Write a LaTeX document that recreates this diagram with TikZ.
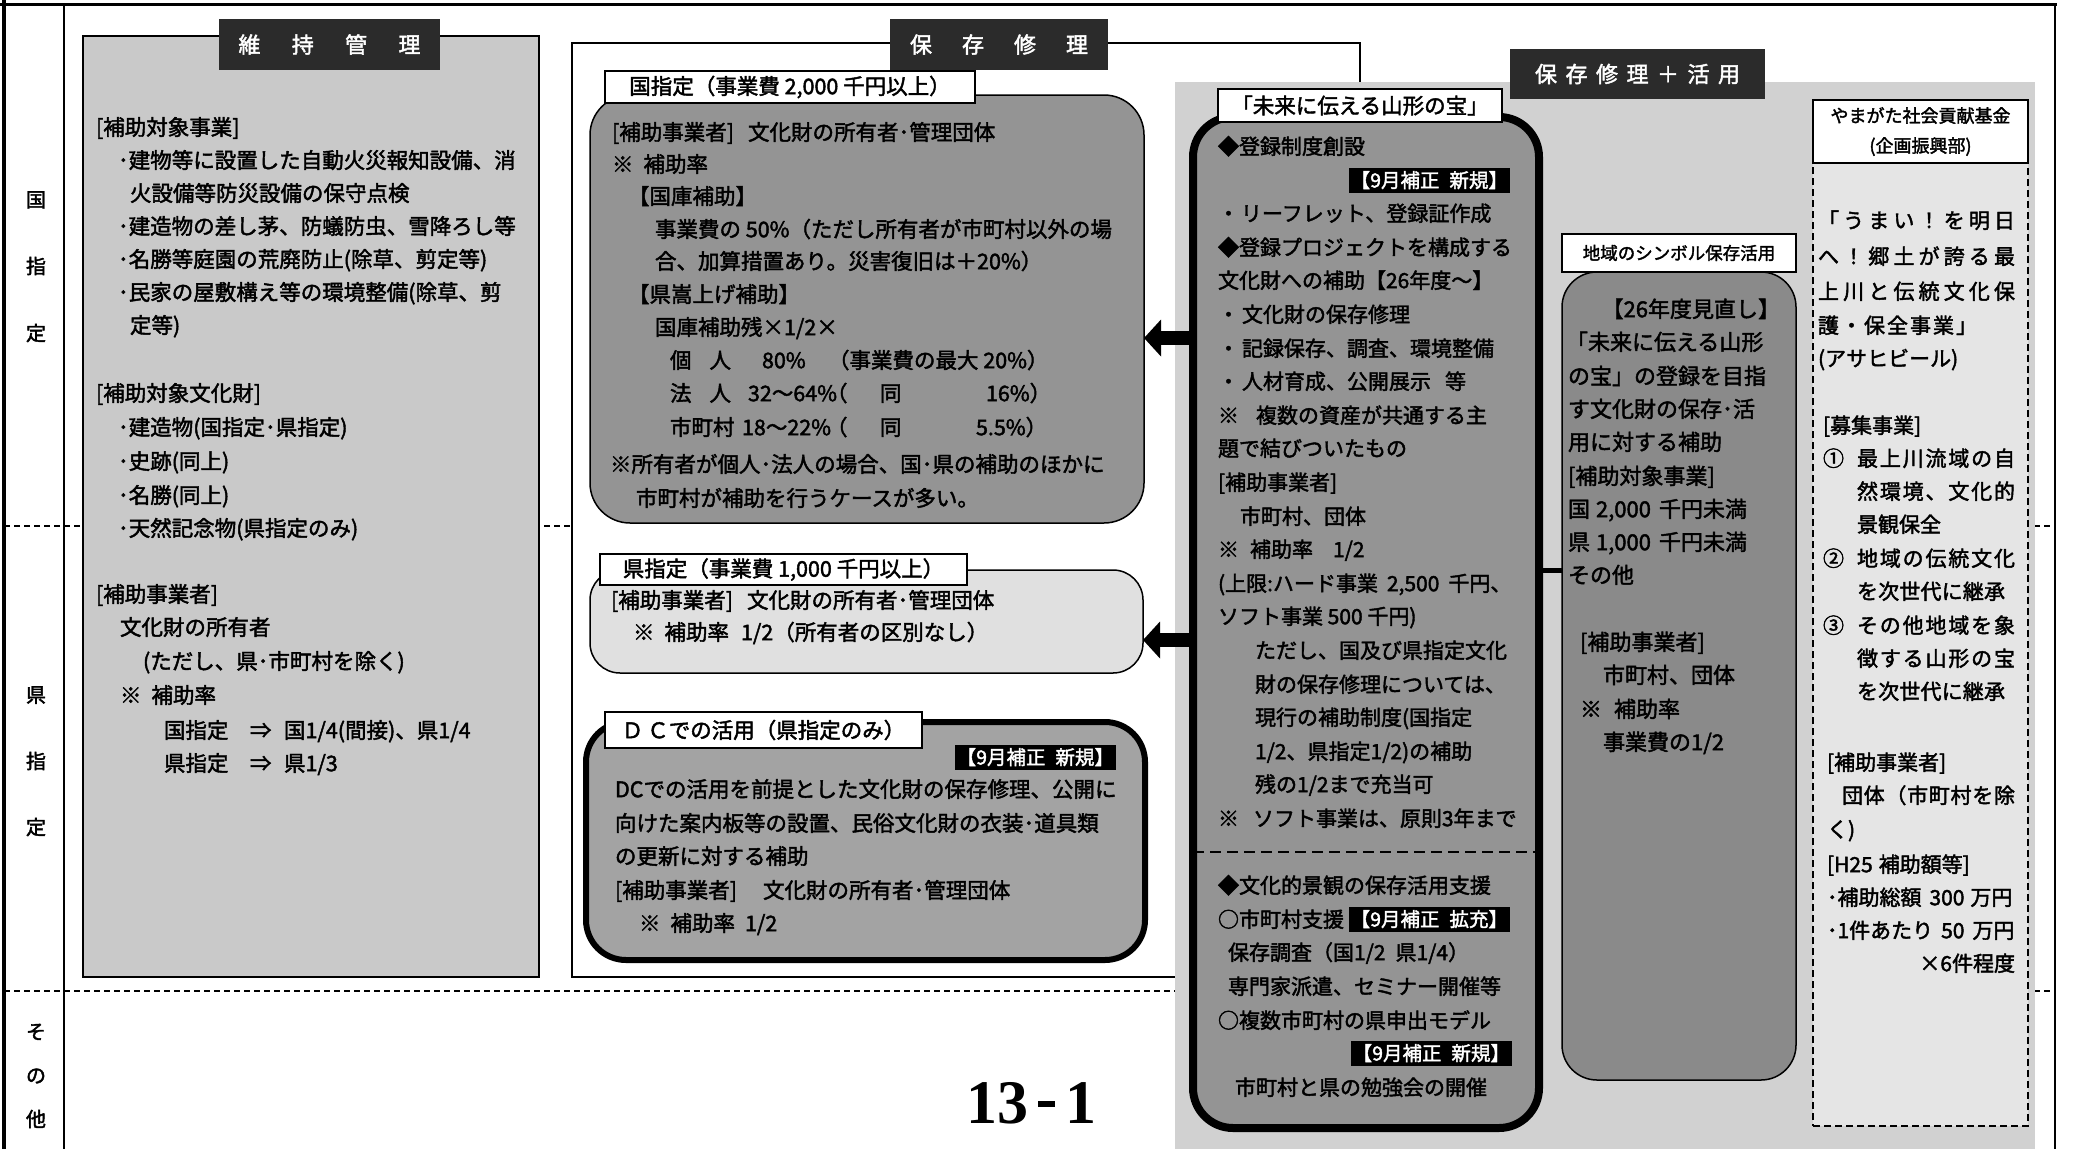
\documentclass[tikz,border=0pt]{standalone}
\usepackage{fontspec}
\setmainfont{Noto Sans CJK JP}[FakeBold=2]
\newfontfamily\numfont{Liberation Serif}
\usetikzlibrary{arrows.meta}
\definecolor{panelA}{gray}{0.79}
\definecolor{regionB}{gray}{0.82}
\definecolor{kuniC}{gray}{0.58}
\definecolor{kenD}{gray}{0.88}
\definecolor{dcE}{gray}{0.64}
\definecolor{centerF}{gray}{0.58}
\definecolor{chiikiG}{gray}{0.54}
\definecolor{yamaH}{gray}{0.90}
\definecolor{hdrc}{gray}{0.17}
\def\spreadit#1{\ifx#1\relax\else#1\hfill\expandafter\spreadit\fi}
\newcommand\spreadto[2]{\hbox to #1{\spreadit#2\relax\unskip}}
\tikzset{
 bx/.style={rectangle, inner sep=0pt, outer sep=0pt, anchor=north west},
 hdr/.style={bx, fill=hdrc, text=white, font=\fontsize{22}{26}\selectfont},
 lbl/.style={bx, draw, fill=white, line width=1.6pt, font=\fontsize{21.5}{26}\selectfont},
 t/.style={anchor=west, inner sep=0pt, outer sep=0pt, text height=19pt, text depth=2.6pt, font=\fontsize{21.5}{26}\selectfont},
 tc/.style={t, font=\fontsize{21}{26}\selectfont},
 tg/.style={t, font=\fontsize{22}{26}\selectfont},
 tr/.style={t, font=\fontsize{21}{26}\selectfont},
 side/.style={anchor=center, inner sep=0pt, font=\fontsize{20}{24}\selectfont},
 badge/.style={anchor=east, fill=black, text=white, inner xsep=2pt, inner ysep=0pt, outer sep=0pt, text height=20pt, text depth=5pt, font=\fontsize{19.5}{24}\selectfont},
 fatarrow/.style={line width=14pt, -{Triangle[length=17pt,width=36pt]}},
 rowsep/.style={line width=1.2pt, dash pattern=on 6pt off 4pt},
}
\begin{document}
\begin{tikzpicture}[x=1pt,y=-1pt]
\useasboundingbox (0,0) rectangle (2077,1149);
\fill[white] (0,0) rectangle (2077,1149);
% row separators and frame
\draw[rowsep] (4,526) -- (2055,526);
\draw[rowsep] (4,991) -- (2055,991);
\draw[line width=3pt] (0,4) -- (2057,4);
\draw[line width=3.5pt] (4,0) -- (4,1149);
\draw[line width=2pt] (64,4) -- (64,1149);
\draw[line width=2pt] (2055,4) -- (2055,1149);
% side labels
\node[side] (s1) at (36,200) {国};
\node[side] (s2) at (36,266) {指};
\node[side] (s3) at (36,333) {定};
\node[side] (s4) at (36,695) {県};
\node[side] (s5) at (36,761) {指};
\node[side] (s6) at (36,827) {定};
\node[side] (s7) at (36,1032) {そ};
\node[side] (s8) at (36,1076) {の};
\node[side] (s9) at (36,1119) {他};
% ---------------- 維持管理 ----------------
\node[bx, draw, line width=1.5pt, fill=panelA, minimum width=456pt, minimum height=941pt] (iji) at (83,36) {};
\node[hdr, minimum width=221pt, minimum height=51pt] (ijih) at (219,19) {\spreadto{182pt}{維持管理}};
\node[t] (lp1) at (96,127) {[補助対象事業]};
\node[t] (lp2) at (118,160) {･建物等に設置した自動火災報知設備、消};
\node[t] (lp3) at (130,193) {火設備等防災設備の保守点検};
\node[t] (lp4) at (118,226) {･建造物の差し茅、防蟻防虫、雪降ろし等};
\node[t] (lp5) at (118,259) {･名勝等庭園の荒廃防止(除草、剪定等)};
\node[t] (lp6) at (118,292) {･民家の屋敷構え等の環境整備(除草、剪};
\node[t] (lp7) at (130,325) {定等)};
\node[t] (lp8) at (96,393) {[補助対象文化財]};
\node[t] (lp9) at (118,427) {･建造物(国指定･県指定)};
\node[t] (lp10) at (118,461) {･史跡(同上)};
\node[t] (lp11) at (118,495) {･名勝(同上)};
\node[t] (lp12) at (118,528) {･天然記念物(県指定のみ)};
\node[t] (lp13) at (96,594) {[補助事業者]};
\node[t] (lp14) at (120,627) {文化財の所有者};
\node[t] (lp15) at (143,661) {(ただし、県･市町村を除く)};
\node[t] (lp16) at (120,695) {※\hspace{10pt}補助率};
\node[t] (lp17a) at (164,730) {国指定};
\node[t] (lp17b) at (250,730) {⇒};
\node[t] (lp17c) at (284,730) {国1/4(間接)、県1/4};
\node[t] (lp18a) at (164,763) {県指定};
\node[t] (lp18b) at (250,763) {⇒};
\node[t] (lp18c) at (284,763) {県1/3};
% ---------------- 保存修理 ----------------
\node[bx, draw, line width=1.5pt, fill=white, minimum width=788pt, minimum height=934pt] (hozon) at (572,43) {};
\node[hdr, minimum width=218pt, minimum height=51pt] (hozonh) at (890,19) {\spreadto{178pt}{保存修理}};
% gray region 保存修理＋活用
\node[bx, fill=regionB, minimum width=860pt, minimum height=1067pt] (katsu) at (1175,82) {};
\node[hdr, minimum width=255pt, minimum height=50pt] (katsuh) at (1510,49) {\spreadto{205pt}{保存修理＋活用}};
% 国指定
\node[bx, draw, line width=1.5pt, fill=kuniC, rounded corners=40pt, minimum width=554pt, minimum height=428pt] (kuni) at (590,95) {};
\node[lbl, minimum width=370pt, minimum height=32pt] (kunil) at (605,71) {国指定（事業費 2,000 千円以上）};
\node[t] (k1) at (612,132) {[補助事業者]\hspace{14pt}文化財の所有者･管理団体};
\node[t] (k2) at (612,164) {※\hspace{10pt}補助率};
\node[t] (k3) at (628,196) {【国庫補助】};
\node[t] (k4) at (655,229) {事業費の 50\%（ただし所有者が市町村以外の場};
\node[t] (k5) at (655,261) {合、加算措置あり。災害復旧は＋20\%）};
\node[t] (k6) at (628,294) {【県嵩上げ補助】};
\node[t] (k7) at (655,327) {国庫補助残×1/2×};
\node[t] (k8a) at (670,360) {個\hspace{18pt}人};
\node[t] (k8b) at (762,360) {80\%};
\node[t] (k8c) at (828,360) {（事業費の最大 20\%）};
\node[t] (k9a) at (670,393) {法\hspace{18pt}人};
\node[t] (k9b) at (748,393) {32～64\%};
\node[t] (k9c) at (826,393) {（};
\node[t] (k9d) at (880,393) {同};
\node[t] (k9e) at (986,393) {16\%）};
\node[t] (k10a) at (670,427) {市町村};
\node[t] (k10b) at (742,427) {18～22\%};
\node[t] (k10c) at (826,427) {（};
\node[t] (k10d) at (880,427) {同};
\node[t] (k10e) at (976,427) {5.5\%）};
\node[t] (k11) at (610,464) {※所有者が個人･法人の場合、国･県の補助のほかに};
\node[t] (k12) at (636,498) {市町村が補助を行うケースが多い。};
% 県指定
\node[bx, draw, line width=1.5pt, fill=kenD, rounded corners=30pt, minimum width=553pt, minimum height=103pt] (ken) at (590,570) {};
\node[lbl, minimum width=367pt, minimum height=31pt] (kenl) at (600,554) {県指定（事業費 1,000 千円以上）};
\node[t] (p1) at (611,600) {[補助事業者]\hspace{14pt}文化財の所有者･管理団体};
\node[t] (p2) at (633,632) {※\hspace{10pt}補助率\hspace{12pt}1/2（所有者の区別なし）};
% DCでの活用
\node[bx, draw, line width=6pt, fill=dcE, rounded corners=40pt, minimum width=559pt, minimum height=238pt] (dc) at (586,722) {};
\node[lbl, minimum width=317pt, minimum height=36pt] (dcl) at (605,712) {Ｄ\hspace{4pt}Ｃでの活用（県指定のみ）};
\node[badge] (dcb) at (1116,757) {【9月補正\hspace{10pt}新規】};
\node[t] (d1) at (615,789) {DCでの活用を前提とした文化財の保存修理、公開に};
\node[t] (d2) at (615,823) {向けた案内板等の設置、民俗文化財の衣装･道具類};
\node[t] (d3) at (615,856) {の更新に対する補助};
\node[t] (d4) at (615,890) {[補助事業者]\hspace{26pt}文化財の所有者･管理団体};
\node[t] (d5) at (639,923) {※\hspace{10pt}補助率\hspace{10pt}1/2};
% ---------------- 未来に伝える山形の宝 ----------------
\node[bx, draw, line width=8pt, fill=centerF, rounded corners=40pt, minimum width=346pt, minimum height=1011pt] (mirai) at (1193,117) {};
\node[lbl, minimum width=284pt, minimum height=33pt] (miral) at (1218,89) {「未来に伝える山形の宝」};
\node[tc] (c1) at (1218,146) {◆登録制度創設};
\node[badge] (cb1) at (1510,180) {【9月補正\hspace{10pt}新規】};
\node[tc] (c2) at (1218,213) {・\hspace{2pt}リーフレット、登録証作成};
\node[tc] (c3) at (1218,247) {◆登録プロジェクトを構成する};
\node[tc] (c4) at (1218,280) {文化財への補助【26年度～】};
\node[tc] (c5) at (1218,314) {・\hspace{3pt}文化財の保存修理};
\node[tc] (c6) at (1218,348) {・\hspace{3pt}記録保存、調査、環境整備};
\node[tc] (c7) at (1218,381) {・\hspace{3pt}人材育成、公開展示\hspace{14pt}等};
\node[tc] (c8) at (1218,415) {※\hspace{17pt}複数の資産が共通する主};
\node[tc] (c9) at (1218,448) {題で結びついたもの};
\node[tc] (c10) at (1218,482) {[補助事業者]};
\node[tc] (c11) at (1240,516) {市町村、団体};
\node[tc] (c12) at (1218,549) {※\hspace{11pt}補助率\hspace{20pt}1/2};
\node[tc] (c13) at (1218,583) {(上限:ハード事業\hspace{9pt}2,500\hspace{9pt}千円、};
\node[tc] (c14) at (1218,616) {ソフト事業 500 千円)};
\node[tc] (c15) at (1255,650) {ただし、国及び県指定文化};
\node[tc] (c16) at (1255,684) {財の保存修理については、};
\node[tc] (c17) at (1255,717) {現行の補助制度(国指定};
\node[tc] (c18) at (1255,751) {1/2、県指定1/2)の補助};
\node[tc] (c19) at (1255,784) {残の1/2まで充当可};
\node[tc] (c20) at (1218,818) {※\hspace{14pt}ソフト事業は、原則3年まで};
\coordinate (dl) at (0,852);
\draw[line width=2.5pt, dash pattern=on 11pt off 6pt] (mirai.west |- dl) -- (mirai.east |- dl);
\node[tc] (c21) at (1218,885) {◆文化的景観の保存活用支援};
\node[tc] (c22) at (1218,919) {○市町村支援};
\node[badge] (cb2) at (1510,919) {【9月補正\hspace{10pt}拡充】};
\node[tc] (c23) at (1228,952) {保存調査（国1/2\hspace{10pt}県1/4）};
\node[tc] (c24) at (1228,986) {専門家派遣、セミナー開催等};
\node[tc] (c25) at (1218,1020) {○複数市町村の県申出モデル};
\node[badge] (cb3) at (1512,1053) {【9月補正\hspace{10pt}新規】};
\node[tc] (c26) at (1235,1087) {市町村と県の勉強会の開催};
% ---------------- 地域のシンボル保存活用 ----------------
\node[bx, draw, line width=1.5pt, fill=chiikiG, rounded corners=35pt, minimum width=234pt, minimum height=808pt] (chiiki) at (1562,272) {};
\node[lbl, minimum width=234pt, minimum height=38pt, font=\fontsize{17.5}{20}\selectfont] (chiikil) at (1562,234) {地域のシンボル保存活用};
\node[tg, anchor=east] (r1) at (1780,309) {【26年度見直し】};
\node[tg] (r2) at (1566,342) {「未来に伝える山形};
\node[tg] (r3) at (1568,376) {の宝」の登録を目指};
\node[tg] (r4) at (1568,409) {す文化財の保存･活};
\node[tg] (r5) at (1568,442) {用に対する補助};
\node[tg] (r6) at (1568,476) {[補助対象事業]};
\node[tg] (r7) at (1568,509) {国\hspace{6pt}2,000\hspace{8pt}千円未満};
\node[tg] (r8) at (1568,542) {県\hspace{6pt}1,000\hspace{8pt}千円未満};
\node[tg] (r9) at (1568,575) {その他};
\node[tg] (r10) at (1580,642) {[補助事業者]};
\node[tg] (r11) at (1603,675) {市町村、団体};
\node[tg] (r12) at (1580,709) {※\hspace{12pt}補助率};
\node[tg] (r13) at (1603,742) {事業費の1/2};
% ---------------- やまがた社会貢献基金 ----------------
\node[bx, draw, line width=1.6pt, dash pattern=on 7pt off 4pt, fill=yamaH, minimum width=215pt, minimum height=963pt] (yama) at (1813,163) {};
\node[bx, draw, line width=2pt, fill=white, minimum width=215pt, minimum height=63pt, align=center, font=\fontsize{18}{30}\selectfont] (yamal) at (1813,100) {やまがた社会貢献基金\\(企画振興部)};
\node[tr] (q1) at (1818,220) {\spreadto{197pt}{「うまい！を明日}};
\node[tr] (q2) at (1818,256) {\spreadto{197pt}{へ！郷土が誇る最}};
\node[tr] (q3) at (1818,291) {\spreadto{197pt}{上川と伝統文化保}};
\node[tr] (q4) at (1818,325) {\spreadto{159pt}{護・保全事業」}};
\node[tr] (q5) at (1818,358) {(アサヒビール)};
\node[tr] (q6) at (1823,425) {[募集事業]};
\node[tr] (q7a) at (1823,458) {①};
\node[tr] (q7b) at (1857,458) {\spreadto{158pt}{最上川流域の自}};
\node[tr] (q8) at (1857,491) {\spreadto{158pt}{然環境、文化的}};
\node[tr] (q9) at (1857,524) {景観保全};
\node[tr] (q10a) at (1823,558) {②};
\node[tr] (q10b) at (1857,558) {\spreadto{158pt}{地域の伝統文化}};
\node[tr] (q11) at (1857,591) {\spreadto{148pt}{を次世代に継承}};
\node[tr] (q12a) at (1823,625) {③};
\node[tr] (q12b) at (1857,625) {\spreadto{158pt}{その他地域を象}};
\node[tr] (q13) at (1857,658) {\spreadto{158pt}{徴する山形の宝}};
\node[tr] (q14) at (1857,691) {\spreadto{148pt}{を次世代に継承}};
\node[tr] (q15) at (1827,762) {[補助事業者]};
\node[tr] (q16) at (1842,795) {\spreadto{173pt}{団体（市町村を除}};
\node[tr] (q17) at (1827,829) {く)};
\node[tr] (q18) at (1827,864) {[H25\hspace{6pt}補助額等]};
\node[tr] (q19) at (1827,897) {･補助総額\hspace{8pt}300\hspace{6pt}万円};
\node[tr] (q20) at (1827,930) {･1件あたり\hspace{8pt}50\hspace{8pt}万円};
\node[tr, anchor=east] (q21) at (2015,963) {×6件程度};
% ---------------- connectors ----------------
\coordinate (a1) at (0,338);
\coordinate (a2) at (0,640);
\coordinate (cc) at (0,570);
\draw[fatarrow] (mirai.west |- a1) -- (kuni.east |- a1);
\draw[fatarrow] (mirai.west |- a2) -- (ken.east |- a2);
\draw[line width=5pt] (mirai.east |- cc) -- (chiiki.west |- cc);
% page number
\node[anchor=base, inner sep=0pt, font=\numfont\bfseries\fontsize{62}{62}\selectfont] (pg) at (1031,1123) {13\hspace{10pt}\rule[16pt]{17pt}{6pt}\hspace{10pt}1};
\end{tikzpicture}
\end{document}
